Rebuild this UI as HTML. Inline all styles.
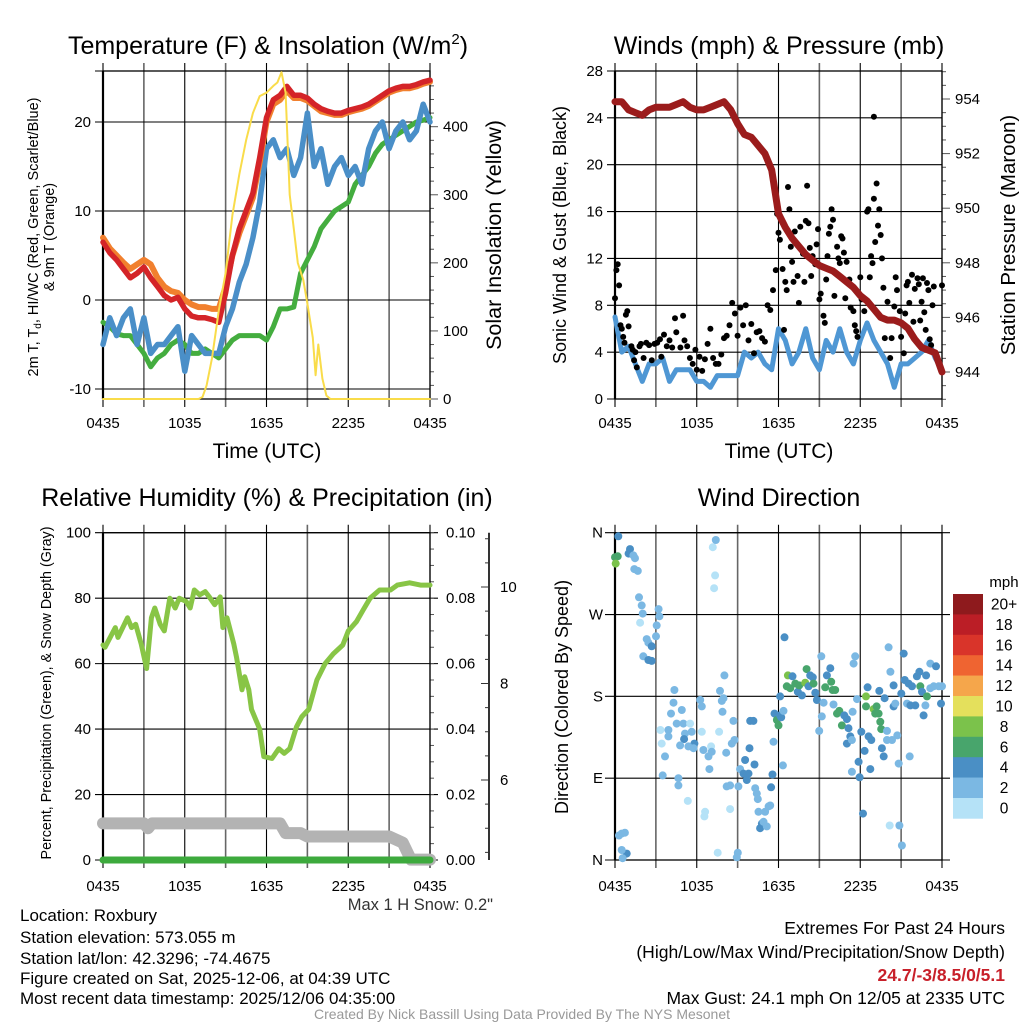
<!DOCTYPE html>
<html><head><meta charset="utf-8"><style>
html,body{margin:0;padding:0;background:#fff;}
svg{display:block;font-family:"Liberation Sans",sans-serif;}
</style></head><body>
<svg id="fig" width="1024" height="1024" viewBox="0 0 1024 1024" xmlns="http://www.w3.org/2000/svg">
<rect width="1024" height="1024" fill="#fff"/>
<g id="layer"></g>
<text x="268" y="54" font-size="25" text-anchor="middle">Temperature (F) &amp; Insolation (W/m<tspan font-size="15" dy="-10">2</tspan><tspan dy="10">)</tspan></text>
<text x="779" y="54" font-size="25" text-anchor="middle">Winds (mph) &amp; Pressure (mb)</text>
<text x="267" y="506" font-size="25" text-anchor="middle">Relative Humidity (%) &amp; Precipitation (in)</text>
<text x="779" y="506" font-size="25" text-anchor="middle">Wind Direction</text>
<text x="267" y="458" font-size="21" text-anchor="middle">Time (UTC)</text>
<text x="779" y="458" font-size="21" text-anchor="middle">Time (UTC)</text>
<text transform="translate(38,237) rotate(-90)" font-size="14.5" text-anchor="middle">2m T, T<tspan font-size="10" dy="3">d</tspan><tspan dy="-3">, HI/WC (Red, Green, Scarlet/Blue)</tspan></text>
<text transform="translate(54,237) rotate(-90)" font-size="14.5" text-anchor="middle">&amp; 9m T (Orange)</text>
<text transform="translate(501,235) rotate(-90)" font-size="21.5" text-anchor="middle">Solar Insolation (Yellow)</text>
<text transform="translate(566,235) rotate(-90)" font-size="18" text-anchor="middle">Sonic Wind &amp; Gust (Blue, Black)</text>
<text transform="translate(1015,235) rotate(-90)" font-size="20.5" text-anchor="middle">Station Pressure (Maroon)</text>
<text transform="translate(51,693) rotate(-90)" font-size="14.3" text-anchor="middle">Percent, Precipitation (Green), &amp; Snow Depth (Gray)</text>
<text transform="translate(568,697) rotate(-90)" font-size="18" text-anchor="middle">Direction (Colored By Speed)</text>
<text x="493" y="910" font-size="16.5" text-anchor="end" fill="#333">Max 1 H Snow: 0.2"</text>
<g font-size="17">
<text x="20" y="921">Location: Roxbury</text>
<text x="20" y="943">Station elevation: 573.055 m</text>
<text x="20" y="964">Station lat/lon: 42.3296; -74.4675</text>
<text x="20" y="984">Figure created on Sat, 2025-12-06, at 04:39 UTC</text>
<text x="20" y="1004">Most recent data timestamp: 2025/12/06 04:35:00</text>
</g>
<g font-size="17.5" text-anchor="end">
<text x="1005" y="934">Extremes For Past 24 Hours</text>
<text x="1005" y="958">(High/Low/Max Wind/Precipitation/Snow Depth)</text>
<text x="1005" y="981" fill="#c8202a" font-weight="bold">24.7/-3/8.5/0/5.1</text>
<text x="1005" y="1004">Max Gust: 24.1 mph On 12/05 at 2335 UTC</text>
</g>
<text x="522" y="1019" font-size="14" text-anchor="middle" fill="#999">Created By Nick Bassill Using Data Provided By The NYS Mesonet</text>
</svg>
<script>
// ---------- data ----------
const xTickLabels = ["0435","1035","1635","2235","0435"];
const tempTicks = [-10,0,10,20];
const solarTicks = [0,100,200,300,400];
const windTicks = [0,4,8,12,16,20,24,28];
const pressTicks = [944,946,948,950,952,954];
const rhTicks = [0,20,40,60,80,100];
const precipTicks = ["0.00","0.02","0.04","0.06","0.08","0.10"];
const snowTicks = [6,8,10];
const dirTicks = ["N","E","S","W","N"];
const halfHours = [];
for (let i = 0; i <= 48; i++) halfHours.push(i * 0.5);
const temp2m = [6.5,5.3,4.5,3.5,2.5,3,3.7,2.5,1.5,0.5,0,0.3,-1,-1.8,-2,-2,-2.2,-2.5,0.8,5,8,10,12,16,20.5,22.5,23,24,23,23,22.7,22,21.5,21.2,21,21,21.3,21.5,21.7,22,22.5,23,23.5,23.8,24,24,24.2,24.5,24.7];
const temp9m = [7,5.8,5,4.2,3.5,4,4.5,4,2.5,1.5,1,0.8,0,-0.5,-0.8,-0.8,-1,-1,1.5,5,7.5,9.5,11.5,15.5,20,22,22.5,23.5,22.7,22.7,22.4,21.8,21.2,21,20.8,20.8,21.1,21.3,21.5,21.8,22.3,22.8,23.3,23.6,23.8,23.8,24,24.3,24.5];
const dewpoint = [-2.5,-3,-3.8,-4,-4,-5,-6,-7.5,-6.5,-6,-5,-4.5,-5,-6,-6,-5.5,-6,-6.5,-5.5,-4.5,-4,-4,-4,-4,-4.5,-3,-1,-1,-0.8,3,4.5,6,8,9,10,10.5,11,13,14,15,16.5,17.5,18,18.5,19,19.5,20,20.2,20.5];
const windChill = [-5,-2,-4,-2,-1,-5,-2,-6,-5,-5,-4,-3,-8,-4,-5,-6,-6,-6,-3,-1,2,4,7,11,17,18,16,17,14,16,21,15,17,13,15,16,14,15,13,17,19,20,17,19,20,18,19,22,20];
const solarTimes = [0,7,7.3,7.6,8,8.5,9,9.5,10,10.5,11,11.5,12,12.5,12.8,13.1,13.4,13.7,14,14.3,14.7,15,15.4,15.6,15.8,16.1,16.4,16.7,24];
const solarValues = [0,0,3,20,60,130,185,270,330,380,420,445,450,460,465,480,450,300,250,200,175,140,90,35,80,30,5,0,0];
const windSpeed = [7,4,4.5,3,1.5,3,3,3.5,1.5,2.5,2.5,2.5,1.5,1.5,1,2,2,2,2,4,3.5,4,3,2.5,6,5,3,4,6,3.5,2.5,5,4,6,4,3,5,6.5,5,4,3,1,3,3,3.5,4,5,3.5,2.5];
const pressure = [953.9,953.9,953.6,953.5,953.4,953.6,953.7,953.7,953.7,953.8,953.9,953.7,953.6,953.6,953.7,953.8,953.9,953.6,953.1,952.7,952.6,952.3,952.0,951.4,949.8,949.3,948.9,948.6,948.3,948.1,947.9,947.8,947.7,947.5,947.3,947.1,946.8,946.6,946.3,946.0,945.9,945.9,945.8,945.6,945.2,944.9,944.8,944.7,944.0];
const gustTimes = [0,0.1,0.2,0.3,0.4,0.5,0.6,0.7,0.8,0.9,1.0,1.2,1.3,1.4,1.5,1.6,1.8,1.9,2.1,2.3,2.5,2.7,2.9,3.1,3.3,3.4,3.6,3.8,4.0,4.2,4.4,4.5,4.8,5.0,5.1,5.3,5.5,5.7,5.9,6.0,6.2,6.4,6.6,6.8,7.0,7.2,7.4,7.6,7.8,8.0,8.2,8.4,8.6,8.8,9.0,9.2,9.4,9.6,9.8,10.0,10.2,10.4,10.6,10.8,11.0,11.2,11.4,11.6,11.8,11.9,12.0,12.1,12.3,12.4,12.5,12.6,12.7,12.8,12.9,13.0,13.1,13.2,13.4,13.5,13.6,13.8,13.9,14.0,14.1,14.2,14.3,14.4,14.5,14.7,14.8,14.9,15.0,15.1,15.3,15.4,15.5,15.6,15.7,15.8,15.9,16.0,16.1,16.3,16.4,16.5,16.6,16.7,16.8,16.9,17.0,17.2,17.3,17.5,17.6,17.7,17.8,18.0,18.1,18.3,18.5,18.6,18.7,18.8,18.9,19.0,19.0,19.1,19.2,19.3,19.4,19.5,19.6,19.7,19.8,20.0,20.2,20.3,20.5,20.6,20.7,20.9,21.0,21.2,21.3,21.4,21.5,21.6,21.8,21.9,22.0,22.2,22.3,22.4,22.5,22.6,22.7,22.8,22.9,23.0,23.1,23.2,23.3,23.4,24.0];
const gustValues = [8.6,11,11.5,9.7,6.3,6,5.3,4.8,7.2,7.5,6.2,4.5,4.2,3.3,4,2.7,4.5,4.7,3.5,4.8,4.6,3.3,4.7,4.8,5.1,3.6,5.5,4.5,5,4.4,6.9,5.7,4.4,7.1,5,4.5,3.5,3,4.2,2.5,3.6,2.4,3.4,4.7,6,3.5,3,3,3.8,5.2,5.4,6.3,8.2,7.3,5.4,7.8,6.3,8,5,6.4,3.9,5.7,5.8,5.2,4.9,8,7.6,9.3,11,15.8,14.2,13.6,11.1,5.9,10,9.3,18.1,16.2,13,11.7,10,14.3,10.5,8.2,14.7,12.4,10,15.2,18.2,15,12.9,10.5,12.2,11.5,13.2,14.5,8.5,9,7.1,6.5,10.2,12.2,14.1,14.7,16.2,15.3,8.8,13,12,11.6,13.9,13.7,12.5,8.6,11.7,10.2,7.8,7.5,6.3,5.8,5.3,10.4,8.5,7.5,16,16.2,10.4,12.2,11.6,17.1,24.1,13.4,18.4,14.8,16.2,14,12,9.5,5.2,8.3,3.5,5.2,7.9,10.4,9.3,7.5,5.3,3.9,7.3,9.7,10,8.2,10.6,6.6,9.4,10.3,9.8,6.7,8.3,10.3,7.4,5.9,9.9,9.3,5.1,4.6,8,9.6,9.7];
const rhTimes = [0,0.15,0.9,1.1,1.8,2.1,2.4,2.8,3.2,3.55,3.8,4.2,4.5,4.9,5.3,5.6,6.1,6.4,6.7,7.1,7.5,7.8,8.2,8.6,8.8,9.1,9.6,9.8,10.2,10.4,10.7,10.9,11.5,11.8,12.4,12.9,13.3,13.7,14.2,14.6,15.1,15.7,16.3,16.9,17.6,18.0,18.6,19.1,19.6,20.3,21.1,21.6,22.5,23.3,24];
const rhValues = [65.7,65,71,68,74,71,72,66,58.5,74,77,72,70,80,77,80,79,77,82.5,81,82,80.4,78,80.4,71,74,66,62,52,56,52,46,40,31.6,31,34,32.6,34,40.7,43.8,46,55,60,63,65.7,70,72.8,76.4,80,82.5,82.5,84,84.7,84,84];
const snowTimes = [0,3,3.3,3.6,13,13.4,14.5,15,21,22,22.6,24];
const snowDepth = [5.1,5.1,5.0,5.1,5.1,4.9,4.9,4.83,4.83,4.7,4.35,4.35];
const precipTimes = [0,24];
const precipValues = [0,0];
const dirTimes = [0.24,0,0.2,0.05,1.1,1.0,1.35,1.47,1.42,1.67,1.76,1.96,2.03,1.84,3.2,3.26,3.06,3.01,2.33,2.45,2.69,2.08,2.45,2.69,0.49,0.73,0.29,0.86,0.49,0.56,4.36,4.29,4.11,3.92,4.53,4.9,5.14,5.02,5.07,5.51,5.63,5.83,5.76,5.39,4.78,3.33,3.43,3.92,3.67,3.5,4.65,4.65,5.34,6.25,6.37,6.37,6.49,6.86,7.05,7.1,6.93,6.61,6.56,7.18,7.4,7.35,7.27,7.64,7.71,7.84,7.96,7.89,8.03,8.16,8.2,8.45,8.69,8.57,8.77,8.45,7.54,9.01,8.94,9.06,9.18,9.43,9.55,9.8,9.87,9.67,9.92,10.16,10.24,10.29,10.41,10.48,10.53,10.65,10.78,10.9,11.02,11.14,11.27,11.39,11.46,11.56,11.63,11.71,11.88,12.0,12.12,12.2,12.32,12.37,12.12,12.44,12.61,12.69,12.86,13.03,13.23,13.42,13.52,13.72,13.96,14.06,14.33,14.52,14.21,14.57,14.7,14.82,14.99,15.14,15.18,15.31,15.43,15.55,15.8,15.87,15.97,16.16,16.04,16.29,16.46,16.65,16.83,17.02,17.14,17.27,17.02,17.39,17.39,17.44,17.63,17.51,17.76,17.88,17.95,18.08,18.2,18.32,18.42,18.42,18.54,18.61,18.81,18.74,18.98,19.1,19.2,19.35,19.47,19.54,19.4,19.59,19.72,19.79,19.96,19.96,20.08,20.21,20.33,20.45,20.45,20.57,20.72,20.82,20.87,20.16,21.06,21.01,21.19,21.26,21.43,21.55,21.63,21.68,21.8,22.04,22.16,22.34,22.41,22.53,22.65,22.78,22.9,22.83,23.14,23.14,23.39,23.56,23.76,23.93,24];
const dirDegrees = [356,333,334,326,342,337,335,332,320,318,289,280,271,261,276,268,258,246,243,239,235,224,220,219,29,30,27,7,11,2,187,173,161,143,150,165,139,150,133,150,141,128,123,125,126,143,128,136,114,93,90,82,65,176,169,141,121,114,125,119,100,53,48,344,352,313,299,141,186,175,178,163,203,118,81,82,153,128,132,56,8,8,3,81,100,95,110,95,123,88,153,153,105,79,73,67,53,35,40,42,53,37,59,60,80,94,130,161,154,148,159,157,104,164,180,245,191,203,189,202,194,185,192,181,195,210,203,201,191,194,184,176,142,224,158,173,190,203,211,196,187,187,171,161,164,148,159,155,145,136,128,132,97,163,224,216,177,108,91,141,51,120,180,169,190,136,132,100,166,161,169,161,152,144,186,123,114,178,142,132,234,207,132,192,169,172,137,106,38,38,16,183,227,198,172,194,114,170,191,170,202,207,191,185,159,170,180,203,216,189,191,213,191,172,191];
const dirSpeeds = [5,7,7,9,5,5,3,3,3,3,3,3,3,1,3,3,3,3,3,3,5,3,5,5,3,3,3,5,3,3,3,3,3,3,3,3,3,3,5,1,3,5,3,3,3,1,1,3,3,3,3,3,1,3,3,1,3,3,1,3,3,1,1,1,3,1,1,1,3,3,3,3,3,3,3,3,3,3,3,1,1,3,3,3,3,5,5,5,5,5,5,5,5,3,3,3,3,5,5,3,3,3,3,3,5,5,3,5,7,7,5,5,3,3,5,5,7,9,7,5,7,5,7,5,9,7,5,5,5,7,5,5,3,3,3,3,7,5,5,7,7,7,3,7,7,7,5,5,5,5,5,3,3,3,3,3,3,5,5,5,5,5,9,7,5,5,5,5,9,7,7,7,7,7,5,5,5,5,3,3,3,3,3,5,5,3,3,3,3,1,3,5,5,5,3,5,3,5,5,5,5,5,7,5,5,3,7,5,3,3,3,5,3,5,3];
const legendLabels = ["20+","18","16","14","12","10","8","6","4","2","0"];
const legendColors = ["#8e1a1d","#bb1e26","#d9342a","#ef6431","#f5a64b","#e4e05c","#7bc24b","#48a56c","#4a8fc5","#7bb8e3","#b5e2f7"];

// ---------- helpers ----------
const NS = "http://www.w3.org/2000/svg";
const layer = document.getElementById("layer");
function mk(tag, attrs, parent) {
  const e = document.createElementNS(NS, tag);
  for (const k in attrs) e.setAttribute(k, attrs[k]);
  (parent || layer).appendChild(e);
  return e;
}
function txt(x, y, s, size, anchor, parent) {
  const t = mk("text", {x: x, y: y, "font-size": size, "text-anchor": anchor || "middle"}, parent);
  t.textContent = s;
  return t;
}
function xScale(x0, x1) { return t => x0 + t / 24 * (x1 - x0); }
function linScale(v0, p0, v1, p1) { return v => p0 + (v - v0) / (v1 - v0) * (p1 - p0); }
function pathD(ts, vs, xs, ys) {
  let d = "";
  for (let i = 0; i < ts.length; i++) d += (i ? "L" : "M") + xs(ts[i]).toFixed(1) + "," + ys(vs[i]).toFixed(1);
  return d;
}
function series(ts, vs, xs, ys, color, w, name, g) {
  const p = mk("path", {d: pathD(ts, vs, xs, ys), fill: "none", stroke: color, "stroke-width": w, "stroke-linejoin": "round", "stroke-linecap": "round"}, g);
  
  
  return p;
}
function frame(x0, x1, y0, y1, name) {
  const g = mk("g", {});
  
  
  for (let k = 0; k <= 8; k++) {
    const x = x0 + k * (x1 - x0) / 8;
    const gray = (k % 2 === 1);
    mk("line", {x1: x, x2: x, y1: y0 - 8, y2: y1 + 8, stroke: gray ? "#666" : "#000", "stroke-width": gray ? 1.6 : 1.1}, g);
  }
  return g;
}
function hgrid(g, x0, x1, y, extL, extR) {
  mk("line", {x1: x0 - extL, x2: x1 + extR, y1: y, y2: y, stroke: "#000", "stroke-width": 1.1}, g);
}
function box(g, x0, x1, y0, y1) {
  mk("rect", {x: x0, y: y0, width: x1 - x0, height: y1 - y0, fill: "none", stroke: "#000", "stroke-width": 1.3}, g);
  mk("line", {x1: x0, x2: x0, y1: y0, y2: y1, stroke: "#000", "stroke-width": 2.2}, g);
}
function xLabels(g, x0, x1, y) {
  for (let k = 0; k < xTickLabels.length; k++) {
    const l = txt(x0 + k * (x1 - x0) / 4, y, xTickLabels[k], 15, "middle", g);
    
    
  }
}

// ---------- Panel 1: temperature ----------
(function () {
  const x0 = 103, x1 = 430, y0 = 71, y1 = 399;
  const xs = xScale(x0, x1);
  const ys = linScale(0, 300, 20, 122);
  const ysSolar = linScale(0, 399, 400, 126.7);
  const g = frame(x0, x1, y0, y1, "temperature-panel");
  mk("line", {x1: x0 - 8, x2: x1, y1: y0, y2: y0, stroke: "#000", "stroke-width": 1.1}, g);
  tempTicks.forEach(v => {
    hgrid(g, x0, x1, ys(v), 8, 0);
    const l = txt(x0 - 12, ys(v) + 5, String(v), 15, "end", g);
    
    
  });
  for (let v = 0; v <= 460; v += 20) {
    const big = v % 100 === 0;
    mk("line", {x1: x1, x2: x1 + (big ? 8 : 4), y1: ysSolar(v), y2: ysSolar(v), stroke: "#555", "stroke-width": 1}, g);
  }
  solarTicks.forEach(v => {
    const l = txt(x1 + 13, ysSolar(v) + 5, String(v), 15, "start", g);
    
    
  });
  box(g, x0, x1, y0, y1);
  xLabels(g, x0, x1, 428);
  series(halfHours, dewpoint, xs, ys, "#44ad3f", 5, "dewpoint-line", g);
  series(halfHours, windChill, xs, ys, "#4a8fc8", 5.5, "wind-chill-line", g);
  series(halfHours, temp9m, xs, ys, "#f1802e", 6, "temp-9m-line", g);
  series(halfHours, temp2m, xs, ys, "#d42428", 5.5, "temp-2m-line", g);
  series(solarTimes, solarValues, xs, ysSolar, "#f9dc4a", 2, "solar-line", g);
})();

// ---------- Panel 2: winds ----------
(function () {
  const x0 = 615, x1 = 942, y0 = 71, y1 = 399;
  const xs = xScale(x0, x1);
  const ys = linScale(0, 399, 28, 71);
  const ysP = linScale(944, 372, 954, 99);
  const g = frame(x0, x1, y0, y1, "winds-panel");
  windTicks.forEach(v => {
    hgrid(g, x0, x1, ys(v), 8, 0);
    const l = txt(x0 - 12, ys(v) + 5, String(v), 15, "end", g);
    
    
  });
  for (let v = 943; v <= 955.01; v += 0.5) {
    const big = Math.abs(v % 2) < 0.01;
    mk("line", {x1: x1, x2: x1 + (big ? 8 : 4), y1: ysP(v), y2: ysP(v), stroke: "#555", "stroke-width": 1}, g);
  }
  pressTicks.forEach(v => {
    const l = txt(x1 + 13, ysP(v) + 5, String(v), 15, "start", g);
    
    
  });
  box(g, x0, x1, y0, y1);
  xLabels(g, x0, x1, 428);
  series(halfHours, windSpeed, xs, ys, "#4f97d4", 5, "wind-speed-line", g);
  for (let i = 0; i < gustTimes.length; i++) {
    const c = mk("circle", {cx: xs(gustTimes[i]).toFixed(1), cy: ys(gustValues[i]).toFixed(1), r: 3, fill: "#000"}, g);
    
    
  }
  series(halfHours, pressure, xs, ysP, "#9b1c1c", 7, "pressure-line", g);
})();

// ---------- Panel 3: humidity ----------
(function () {
  const x0 = 103, x1 = 430, y0 = 532.7, y1 = 860;
  const xs = xScale(x0, x1);
  const ys = linScale(0, 860, 100, 532.7);
  const ysPr = linScale(0, 860, 0.1, 532.7);
  const ysSnow = linScale(6, 780, 10, 587);
  const g = frame(x0, x1, y0, y1, "humidity-panel");
  rhTicks.forEach(v => {
    hgrid(g, x0, x1, ys(v), 8, 8);
    const l = txt(x0 - 12, ys(v) + 5, String(v), 15, "end", g);
    
    
  });
  for (let v = 0; v <= 100; v += 5) {
    mk("line", {x1: x1, x2: x1 + 4, y1: ys(v), y2: ys(v), stroke: "#555", "stroke-width": 1}, g);
  }
  precipTicks.forEach((s, k) => {
    const l = txt(x1 + 16, ys(k * 20) + 5, s, 15, "start", g);
    
    
  });
  mk("line", {x1: 489, x2: 489, y1: 532.7, y2: 860, stroke: "#000", "stroke-width": 1.6}, g);
  for (let v = 4.5; v <= 11.3; v += 0.5) {
    const big = Math.abs(v % 2) < 0.01;
    if (ysSnow(v) < 532 || ysSnow(v) > 860) continue;
    mk("line", {x1: 489, x2: 489 - (big ? 8 : 4), y1: ysSnow(v), y2: ysSnow(v), stroke: "#333", "stroke-width": 1}, g);
  }
  snowTicks.forEach(v => {
    const l = txt(500, ysSnow(v) + 5, String(v), 15, "start", g);
    
    
  });
  box(g, x0, x1, y0, y1);
  xLabels(g, x0, x1, 891);
  series(snowTimes, snowDepth, xs, ysSnow, "#b3b3b3", 12, "snow-depth-line", g);
  series(precipTimes, precipValues, xs, ysPr, "#3daa3d", 7, "precip-line", g);
  series(rhTimes, rhValues, xs, ys, "#88c546", 5, "rh-line", g);
})();

// ---------- Panel 4: wind direction ----------
(function () {
  const x0 = 615, x1 = 942, y0 = 532.7, y1 = 860;
  const xs = xScale(x0, x1);
  const ys = linScale(0, 860, 360, 532.7);
  const g = frame(x0, x1, y0, y1, "direction-panel");
  dirTicks.forEach((s, k) => {
    hgrid(g, x0, x1, ys(k * 90), 10, 8);
    const l = txt(x0 - 12, ys(k * 90) + 5, s, 15, "end", g);
    
    
  });
  box(g, x0, x1, y0, y1);
  xLabels(g, x0, x1, 891);
  function colorFor(s) {
    const idx = Math.min(10, Math.floor(s / 2));
    return legendColors[10 - idx];
  }
  for (let i = 0; i < dirTimes.length; i++) {
    const c = mk("circle", {cx: xs(dirTimes[i]).toFixed(1), cy: ys(dirDegrees[i]).toFixed(1), r: 4, fill: colorFor(dirSpeeds[i])}, g);
    
    
  }
  const lg = mk("g", {});
  
  
  txt(1004, 587, "mph", 15, "middle", lg);
  const top = 594, h = 20.4;
  legendLabels.forEach((s, k) => {
    const r = mk("rect", {x: 953, y: top + k * h, width: 30, height: h + 0.3, fill: legendColors[k]}, lg);
    
    
    const l = txt(1004, top + k * h + 15.5, s, 15.5, "middle", lg);
    
    
  });
})();
</script>
</body></html>
